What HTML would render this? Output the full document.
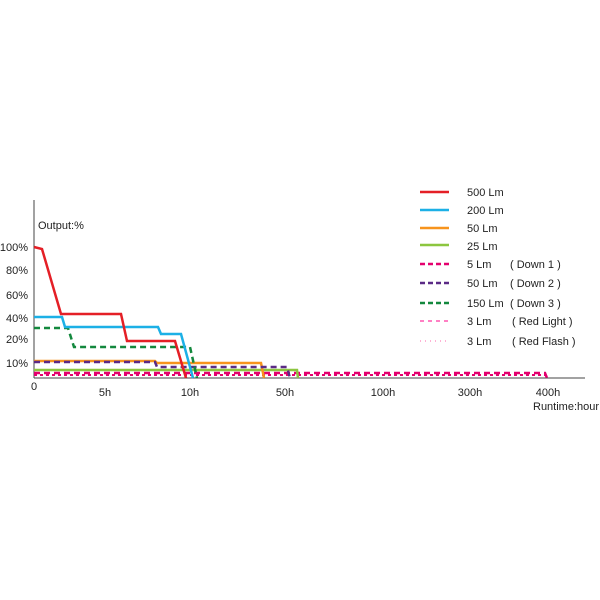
<!DOCTYPE html>
<html><head><meta charset="utf-8"><style>body{margin:0;background:#fff}svg{display:block}text{font-family:"Liberation Sans",sans-serif;fill:#222}</style></head><body>
<svg width="600" height="600" viewBox="0 0 600 600">
<line x1="34" y1="200" x2="34" y2="378" stroke="#444" stroke-width="1"/>
<line x1="34" y1="378" x2="585" y2="378" stroke="#444" stroke-width="1"/>
<text x="38" y="229" font-size="11">Output:%</text>
<g font-size="11" text-anchor="end">
<text x="28" y="251">100%</text><text x="28" y="274">80%</text><text x="28" y="299">60%</text>
<text x="28" y="322">40%</text><text x="28" y="343">20%</text><text x="28" y="367">10%</text></g>
<g font-size="11" text-anchor="middle">
<text x="34" y="390">0</text><text x="105" y="396">5h</text><text x="190" y="396">10h</text>
<text x="285" y="396">50h</text><text x="383" y="396">100h</text><text x="470" y="396">300h</text><text x="548" y="396">400h</text></g>
<text x="533" y="410" font-size="11">Runtime:hour</text>
<g fill="none" stroke-width="2.5">
<polyline stroke="#e4006e" stroke-width="2" stroke-dasharray="3,3" points="34,375 545,375"/>
<polyline stroke="#e4006e" stroke-dasharray="6,4" points="34,373 545,373 547,378"/>
<polyline stroke="#8cc63f" points="34,370 297,370 298,378"/>
<polyline stroke="#f7941d" points="34,361 155,361 157,363 261,363 264,378"/>
<polyline stroke="#5b2a86" stroke-dasharray="6,4" points="34,362 155,362 157,367 287,367 290,378"/>
<polyline stroke="#13883d" stroke-dasharray="6,4" points="34,328 68,328 74,347 190,347 197,378"/>
<polyline stroke="#1cb0e6" points="34,317 62,317 65,327 158,327 161,334 181,334 193,378"/>
<polyline stroke="#e41f26" points="34,247 42,249 61,314 121,314 127,341 175,341 186,378"/>
</g>
<g stroke-width="2.5" fill="none">
<line x1="420" y1="192" x2="449" y2="192" stroke="#e41f26"/>
<line x1="420" y1="210" x2="449" y2="210" stroke="#1cb0e6"/>
<line x1="420" y1="228" x2="449" y2="228" stroke="#f7941d"/>
<line x1="420" y1="245" x2="449" y2="245" stroke="#8cc63f"/>
<line x1="420" y1="264" x2="449" y2="264" stroke="#e4006e" stroke-dasharray="5,3"/>
<line x1="420" y1="283" x2="449" y2="283" stroke="#5b2a86" stroke-dasharray="5,3"/>
<line x1="420" y1="303" x2="449" y2="303" stroke="#13883d" stroke-dasharray="5,3"/>
<line x1="420" y1="321" x2="449" y2="321" stroke="#f08" stroke-width="1" stroke-dasharray="4,4"/>
<line x1="420" y1="341" x2="449" y2="341" stroke="#f6a" stroke-width="1" stroke-dasharray="1,4"/>
</g>
<g font-size="11">
<text x="467" y="196">500 Lm</text><text x="467" y="214">200 Lm</text><text x="467" y="232">50 Lm</text>
<text x="467" y="250">25 Lm</text>
<text x="467" y="268">5 Lm</text><text x="510" y="268">( Down 1 )</text>
<text x="467" y="287">50 Lm</text><text x="510" y="287">( Down 2 )</text>
<text x="467" y="307">150 Lm</text><text x="510" y="307">( Down 3 )</text>
<text x="467" y="325">3 Lm</text><text x="512" y="325">( Red Light )</text>
<text x="467" y="345">3 Lm</text><text x="512" y="345">( Red Flash )</text>
</g>
</svg></body></html>
